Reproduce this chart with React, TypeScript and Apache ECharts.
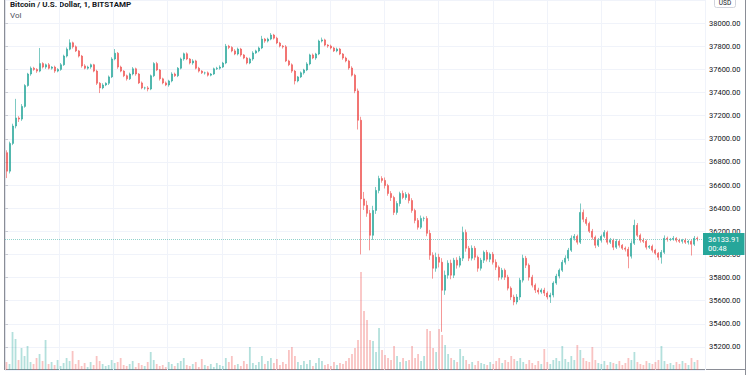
import React, { useEffect, useRef } from "react";
import * as echarts from "echarts";

const TITLE = "Bitcoin / U.S. Dollar, 1, BITSTAMP";
const VOL_LABEL = "Vol";
const LAST_PRICE = 36133.91;
const COUNTDOWN = "00:48";
const FIRST_OPEN = 36880;
const EMPTY_SLOTS = 2;

const closes = [
  36720, 36960, 37110, 37180, 37170, 37280, 37460, 37560, 37610, 37600,
  37585, 37650, 37620, 37640, 37610, 37620, 37585, 37600, 37640, 37715,
  37775, 37830, 37795, 37760, 37715, 37630, 37610, 37620, 37640, 37585,
  37480, 37440, 37465, 37480, 37535, 37690, 37740, 37620, 37585, 37545,
  37518, 37560, 37605, 37560, 37483, 37440, 37440, 37430, 37545, 37650,
  37595, 37518, 37483, 37465, 37500, 37560, 37545, 37610, 37690, 37735,
  37690, 37655, 37673, 37610, 37585, 37570, 37570, 37550, 37560, 37605,
  37610, 37620, 37655, 37800, 37790, 37760, 37733, 37776, 37725, 37698,
  37655, 37690, 37742, 37760, 37785, 37862, 37845, 37862, 37897, 37870,
  37828, 37802, 37795, 37673, 37640, 37585, 37500, 37535, 37570, 37595,
  37647, 37725, 37698, 37733, 37845, 37855, 37810, 37802, 37785, 37760,
  37776, 37733, 37698, 37673, 37612, 37550, 37414, 37160, 36480, 36424,
  36355, 36165, 36380, 36553, 36656, 36640, 36595, 36527, 36492, 36363,
  36440, 36527, 36492, 36518, 36466, 36380, 36294, 36234, 36311, 36311,
  36182, 35993, 35880, 35975, 35932, 35690, 35820, 35924, 35820, 35950,
  35907, 35967, 36190, 36053, 35967, 36053, 35975, 35880, 35950, 36018,
  35958, 36001, 35932, 35889, 35803, 35863, 35803, 35708, 35631, 35588,
  35631, 35777, 35967, 35907, 35803, 35734, 35691, 35674, 35691, 35665,
  35631, 35648, 35752, 35812, 35863, 35932, 35967, 36036, 36139, 36156,
  36105, 36363, 36303, 36268, 36200, 36148, 36079, 36122, 36156, 36190,
  36105, 36122, 36062, 36113, 36079, 36053, 36045, 35984, 36096, 36251,
  36165, 36122, 36113, 36062, 36070, 36036, 36010, 35975, 36018, 36139,
  36130, 36130, 36139, 36122, 36113, 36122, 36105, 36113, 36088, 36139, 36133.91,
];

const wickUp = [
  20, 15, 20, 165, 15, 20, 12, 10, 15, 12,
  10, 135, 12, 10, 15, 8, 12, 10, 15, 12,
  15, 30, 10, 12, 8, 10, 15, 12, 10, 8,
  12, 10, 15, 8, 12, 15, 36, 10, 12, 8,
  10, 12, 15, 10, 8, 12, 10, 15, 10, 12,
  15, 8, 10, 12, 10, 15, 12, 10, 12, 10,
  12, 8, 15, 10, 12, 8, 10, 12, 8, 10,
  12, 15, 10, 20, 12, 10, 15, 12, 10, 8,
  10, 12, 15, 10, 12, 28, 10, 12, 17, 10,
  12, 10, 8, 15, 10, 12, 10, 8, 12, 10,
  15, 10, 12, 10, 12, 20, 10, 8, 12, 10,
  12, 10, 8, 12, 10, 15, 12, 20, 30, 60,
  40, 30, 40, 30, 24, 20, 25, 15, 20, 15,
  20, 15, 25, 20, 15, 20, 15, 20, 25, 15,
  20, 30, 25, 40, 30, 35, 40, 25, 30, 20,
  25, 20, 50, 25, 20, 25, 20, 15, 20, 15,
  20, 15, 20, 25, 15, 20, 15, 20, 15, 20,
  25, 20, 30, 20, 15, 20, 15, 20, 15, 20,
  15, 20, 15, 20, 15, 20, 25, 20, 25, 20,
  15, 77, 25, 20, 15, 20, 15, 20, 15, 20,
  15, 20, 15, 20, 15, 10, 15, 20, 25, 49,
  20, 15, 20, 15, 10, 15, 12, 10, 20, 25,
  15, 12, 20, 10, 15, 12, 18, 10, 15, 20, 15,
];

const wickDown = [
  60, 20, 15, 20, 25, 15, 12, 10, 15, 12,
  15, 10, 12, 15, 10, 12, 15, 10, 12, 10,
  12, 10, 15, 10, 12, 15, 10, 12, 15, 10,
  15, 45, 12, 10, 15, 10, 12, 15, 10, 12,
  15, 10, 12, 15, 10, 12, 15, 20, 10, 12,
  10, 15, 12, 10, 15, 12, 10, 12, 10, 15,
  10, 12, 15, 10, 12, 10, 15, 12, 10, 8,
  10, 12, 8, 10, 15, 12, 10, 12, 15, 10,
  12, 10, 15, 8, 12, 10, 15, 12, 10, 12,
  10, 12, 15, 10, 12, 15, 30, 12, 10, 15,
  10, 12, 10, 15, 10, 12, 10, 15, 12, 10,
  12, 10, 15, 12, 15, 12, 20, 80, 480, 40,
  30, 130, 40, 30, 25, 20, 25, 20, 30, 23,
  20, 25, 15, 20, 25, 20, 25, 20, 15, 25,
  25, 40, 90, 30, 45, 360, 40, 30, 35, 25,
  30, 20, 25, 30, 25, 20, 25, 30, 20, 25,
  20, 25, 20, 25, 30, 20, 25, 20, 25, 28,
  20, 25, 20, 25, 30, 20, 25, 20, 15, 25,
  20, 51, 20, 15, 20, 15, 20, 25, 15, 20,
  20, 15, 25, 20, 15, 20, 25, 15, 20, 15,
  20, 15, 25, 15, 20, 15, 20, 104, 20, 15,
  15, 20, 15, 20, 15, 20, 15, 25, 55, 15,
  20, 15, 12, 18, 15, 20, 15, 20, 98, 15, 20,
];

const volumes = [
  8, 6, 38, 31, 10, 22, 14, 24, 8, 6,
  12, 16, 9, 30, 6, 8, 5, 10, 4, 7,
  12, 9, 19, 6, 10, 4, 7, 3, 8, 5,
  14, 9, 6, 4, 5, 10, 7, 8, 12, 5,
  4, 6, 9, 3, 7, 5, 4, 8, 18, 10,
  6, 4, 5, 3, 8, 6, 4, 7, 9, 12,
  5, 4, 6, 8, 3, 11, 5, 4, 6, 3,
  7, 5, 4, 12, 8, 14, 5, 6, 4, 9,
  6, 23, 7, 5, 8, 14, 6, 9, 12, 7,
  11, 5, 8, 6, 20, 23, 14, 8, 5, 9,
  6, 10, 4, 7, 12, 9, 5, 6, 4, 8,
  5, 7, 6, 9, 12, 16, 22, 30, 98, 59,
  50, 30, 29, 18, 42, 20, 15, 12, 10, 24,
  14, 8, 12, 9, 10, 24, 12, 16, 9, 14,
  41, 39, 22, 18, 41, 35, 25, 16, 12, 10,
  8, 21, 14, 10, 6, 8, 5, 9, 7, 6,
  5, 8, 6, 9, 12, 7, 10, 8, 14, 11,
  9, 12, 8, 6, 10, 7, 5, 9, 6, 21,
  8, 6, 10, 12, 9, 24, 11, 8, 14, 10,
  25, 20, 12, 9, 8, 23, 10, 7, 6, 9,
  5, 8, 7, 6, 9, 5, 7, 12, 10, 18,
  8, 6, 5, 9, 7, 6, 8, 10, 24, 9,
  6, 7, 5, 8, 6, 9, 7, 5, 12, 8, 10,
];

const PRICE_MIN = 35000;
const PRICE_MAX = 38200;
const PRICE_STEP = 200;
const VOL_MAX = 370;

const UP = "#26a69a";
const DOWN = "#ef5350";
const UP_VOL = "rgba(38,166,154,0.35)";
const DOWN_VOL = "rgba(239,83,80,0.35)";
const FONT = "Roboto, 'Liberation Sans', sans-serif";

export default function App() {
  const ref = useRef<HTMLDivElement>(null);

  useEffect(() => {
    if (!ref.current) return;
    const chart = echarts.init(ref.current, undefined, { renderer: "svg" });

    const candles: number[][] = [];
    const vols: any[] = [];
    let prev = FIRST_OPEN;
    for (let i = 0; i < closes.length; i++) {
      const o = prev;
      const c = closes[i];
      const lo = Math.min(o, c) - wickDown[i];
      const hi = Math.max(o, c) + wickUp[i];
      candles.push([o, c, lo, hi]);
      vols.push({ value: volumes[i], itemStyle: { color: c >= o ? UP_VOL : DOWN_VOL } });
      prev = c;
    }
    const cats = Array.from({ length: closes.length + EMPTY_SLOTS }, (_, i) => String(i));

    chart.setOption({
      animation: false,
      backgroundColor: "#ffffff",
      textStyle: { fontFamily: FONT },
      grid: { left: 5, right: 45, top: 0, height: 370, containLabel: false },
      xAxis: [
        {
          type: "category",
          data: cats,
          boundaryGap: true,
          axisLine: { show: false },
          axisTick: { show: false },
          axisLabel: { show: false },
          splitLine: { show: false },
        },
        {
          type: "value",
          min: 0,
          max: 700,
          interval: 54.2,
          axisLine: { show: false },
          axisTick: { show: false },
          axisLabel: { show: false },
          splitLine: { show: true, lineStyle: { color: "#f0f3fa", width: 1 } },
        },
      ],
      yAxis: [
        {
          type: "value",
          position: "right",
          min: PRICE_MIN,
          max: PRICE_MAX,
          interval: PRICE_STEP,
          axisLine: { show: true, lineStyle: { color: "#e0e3eb" } },
          axisTick: { show: true, length: 3, lineStyle: { color: "#c8cbd3" } },
          axisLabel: {
            show: true,
            color: "#131722",
            fontSize: 7.5,
            fontFamily: FONT,
            margin: 4,
            showMinLabel: false,
            showMaxLabel: false,
            formatter: (v: number) => v.toFixed(2),
          },
          splitLine: { show: true, lineStyle: { color: "#f0f3fa", width: 1 } },
        },
        {
          type: "value",
          min: 0,
          max: VOL_MAX,
          show: false,
          splitLine: { show: false },
        },
      ],
      series: [
        {
          type: "bar",
          xAxisIndex: 0,
          yAxisIndex: 1,
          data: vols,
          barWidth: 1.8,
          z: 1,
        },
        {
          type: "candlestick",
          xAxisIndex: 0,
          yAxisIndex: 0,
          data: candles,
          barWidth: 1.5,
          z: 3,
          itemStyle: {
            color: UP,
            color0: DOWN,
            borderColor: UP,
            borderColor0: DOWN,
            borderWidth: 0.6,
          },
          markLine: {
            silent: true,
            symbol: "none",
            animation: false,
            lineStyle: { color: "rgba(38,166,154,0.5)", type: "dotted", width: 1 },
            label: {
              show: true,
              position: "end",
              distance: -2,
              offset: [0, 5],
              formatter: () => LAST_PRICE.toFixed(2) + "\n" + COUNTDOWN,
              backgroundColor: UP,
              color: "#ffffff",
              fontSize: 7.5,
              fontFamily: FONT,
              lineHeight: 9,
              padding: [2, 5, 2, 5],
              align: "left",
            },
            data: [{ yAxis: LAST_PRICE }],
          },
        },
      ],
      graphic: [
        {
          type: "text",
          left: 10,
          top: 0,
          style: { text: TITLE, fill: "#131722", font: `bold 8px ${FONT}` },
        },
        {
          type: "text",
          left: 10,
          top: 11,
          style: { text: VOL_LABEL, fill: "#50535e", font: `8px ${FONT}` },
        },
        {
          type: "group",
          left: 714,
          top: -4,
          children: [
            {
              type: "rect",
              shape: { x: 0, y: 0, width: 21, height: 11, r: 2 },
              style: { fill: "#ffffff", stroke: "#d1d4dc", lineWidth: 1 },
            },
            {
              type: "text",
              x: 10.5,
              y: 6,
              style: { text: "USD", fill: "#131722", font: `6.5px ${FONT}`, align: "center", verticalAlign: "middle" },
            },
          ],
        },
        {
          type: "line",
          shape: { x1: 4.5, y1: 0, x2: 4.5, y2: 370 },
          style: { stroke: "#8a8d96", lineWidth: 1 },
        },
        {
          type: "line",
          shape: { x1: 745.5, y1: 0, x2: 745.5, y2: 375 },
          style: { stroke: "#8a8d96", lineWidth: 1 },
        },
        {
          type: "line",
          shape: { x1: 4, y1: 369.5, x2: 746, y2: 369.5 },
          style: { stroke: "#8a8d96", lineWidth: 1 },
        },
      ],
    });

    return () => chart.dispose();
  }, []);

  return (
    <div
      ref={ref}
      style={{ position: "fixed", left: 0, top: 0, width: 750, height: 375, background: "#fff" }}
    />
  );
}
